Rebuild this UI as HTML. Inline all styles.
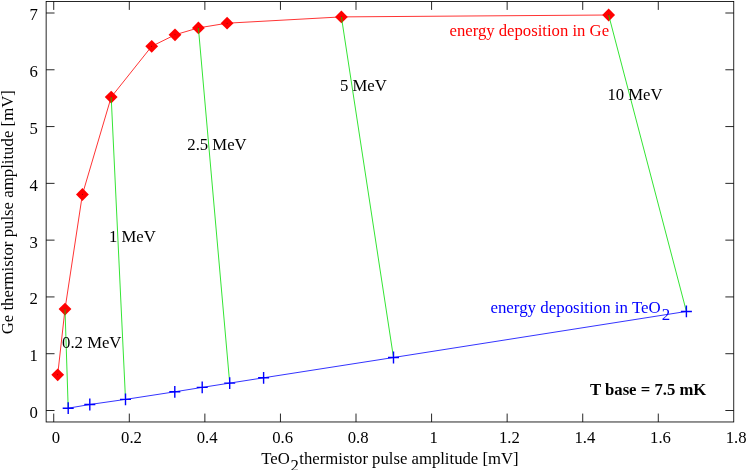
<!DOCTYPE html>
<html><head><meta charset="utf-8"><title>plot</title>
<style>html,body{margin:0;padding:0;background:#fff;overflow:hidden}svg{display:block;will-change:transform;opacity:0.999}text{font-family:"Liberation Serif",serif;font-size:16.7px;fill:#000}</style></head>
<body>
<svg width="747" height="470" viewBox="0 0 747 470">
<rect width="747" height="470" fill="#fff"/>
<g stroke="#000" stroke-width="0.85" fill="none" stroke-linecap="butt">
<rect x="46.14" y="1.50" width="687.61" height="420.47"/>
<path d="M53.73 421.97v-8.40 M53.73 1.50v8.40"/>
<path d="M129.30 421.97v-8.40 M129.30 1.50v8.40"/>
<path d="M204.87 421.97v-8.40 M204.87 1.50v8.40"/>
<path d="M280.44 421.97v-8.40 M280.44 1.50v8.40"/>
<path d="M356.01 421.97v-8.40 M356.01 1.50v8.40"/>
<path d="M431.58 421.97v-8.40 M431.58 1.50v8.40"/>
<path d="M507.15 421.97v-8.40 M507.15 1.50v8.40"/>
<path d="M582.72 421.97v-8.40 M582.72 1.50v8.40"/>
<path d="M658.29 421.97v-8.40 M658.29 1.50v8.40"/>
<path d="M46.14 410.50h8.40 M733.75 410.50h-8.40"/>
<path d="M46.14 353.71h8.40 M733.75 353.71h-8.40"/>
<path d="M46.14 296.93h8.40 M733.75 296.93h-8.40"/>
<path d="M46.14 240.14h8.40 M733.75 240.14h-8.40"/>
<path d="M46.14 183.36h8.40 M733.75 183.36h-8.40"/>
<path d="M46.14 126.57h8.40 M733.75 126.57h-8.40"/>
<path d="M46.14 69.78h8.40 M733.75 69.78h-8.40"/>
<path d="M46.14 13.00h8.40 M733.75 13.00h-8.40"/>
</g>
<g text-anchor="end">
<text x="37.8" y="417.90">0</text>
<text x="37.8" y="361.11">1</text>
<text x="37.8" y="304.33">2</text>
<text x="37.8" y="247.54">3</text>
<text x="37.8" y="190.76">4</text>
<text x="37.8" y="133.97">5</text>
<text x="37.8" y="77.18">6</text>
<text x="37.8" y="20.40">7</text>
</g>
<g text-anchor="middle">
<text x="55.93" y="443.2">0</text>
<text x="131.50" y="443.2">0.2</text>
<text x="207.07" y="443.2">0.4</text>
<text x="282.64" y="443.2">0.6</text>
<text x="358.21" y="443.2">0.8</text>
<text x="433.78" y="443.2">1</text>
<text x="509.35" y="443.2">1.2</text>
<text x="584.92" y="443.2">1.4</text>
<text x="660.49" y="443.2">1.6</text>
<text x="736.06" y="443.2">1.8</text>
</g>
<text transform="translate(12.8,212.2) rotate(-90)" text-anchor="middle" style="font-size:16.8px">Ge thermistor pulse amplitude [mV]</text>
<text x="261.3" y="463.8">TeO<tspan dy="6.8" dx="0.6">2</tspan><tspan dy="-6.8" dx="0.6">thermistor pulse amplitude [mV]</tspan></text>
<polyline points="57.70,374.80 65.00,309.10 82.40,194.50 111.20,97.10 151.70,46.30 175.00,34.80 198.40,27.90 227.10,23.20 341.40,16.90 608.65,15.00" fill="none" stroke="#f00" stroke-width="0.8"/>
<g fill="#f00">
<path d="M51.30 374.80l6.40 -6.40l6.40 6.40l-6.40 6.40z"/>
<path d="M58.60 309.10l6.40 -6.40l6.40 6.40l-6.40 6.40z"/>
<path d="M76.00 194.50l6.40 -6.40l6.40 6.40l-6.40 6.40z"/>
<path d="M104.80 97.10l6.40 -6.40l6.40 6.40l-6.40 6.40z"/>
<path d="M145.30 46.30l6.40 -6.40l6.40 6.40l-6.40 6.40z"/>
<path d="M168.60 34.80l6.40 -6.40l6.40 6.40l-6.40 6.40z"/>
<path d="M192.00 27.90l6.40 -6.40l6.40 6.40l-6.40 6.40z"/>
<path d="M220.70 23.20l6.40 -6.40l6.40 6.40l-6.40 6.40z"/>
<path d="M335.00 16.90l6.40 -6.40l6.40 6.40l-6.40 6.40z"/>
<path d="M602.25 15.00l6.40 -6.40l6.40 6.40l-6.40 6.40z"/>
</g>
<g fill="#500">
<circle cx="57.70" cy="374.80" r="0.45"/>
<circle cx="65.00" cy="309.10" r="0.45"/>
<circle cx="82.40" cy="194.50" r="0.45"/>
<circle cx="111.20" cy="97.10" r="0.45"/>
<circle cx="151.70" cy="46.30" r="0.45"/>
<circle cx="175.00" cy="34.80" r="0.45"/>
<circle cx="198.40" cy="27.90" r="0.45"/>
<circle cx="227.10" cy="23.20" r="0.45"/>
<circle cx="341.40" cy="16.90" r="0.45"/>
<circle cx="608.65" cy="15.00" r="0.45"/>
</g>
<g stroke="#0d0" stroke-width="0.8" fill="none">
<path d="M65.00 309.10L68.20 408.20"/>
<path d="M111.20 97.10L125.50 399.40"/>
<path d="M198.40 27.90L229.70 383.10"/>
<path d="M341.40 16.90L393.50 357.50"/>
<path d="M608.65 15.00L686.40 311.45"/>
</g>
<polyline points="68.20,408.20 89.80,404.50 125.50,399.40 174.80,391.80 202.20,387.40 229.70,383.10 263.60,377.80 393.50,357.50 686.40,311.45" fill="none" stroke="#00f" stroke-width="0.8"/>
<g stroke="#00f" stroke-width="1.4" fill="none">
<path d="M62.70 408.20h11.00M68.20 402.30v11.80"/>
<path d="M84.30 404.50h11.00M89.80 398.60v11.80"/>
<path d="M120.00 399.40h11.00M125.50 393.50v11.80"/>
<path d="M169.30 391.80h11.00M174.80 385.90v11.80"/>
<path d="M196.70 387.40h11.00M202.20 381.50v11.80"/>
<path d="M224.20 383.10h11.00M229.70 377.20v11.80"/>
<path d="M258.10 377.80h11.00M263.60 371.90v11.80"/>
<path d="M388.00 357.50h11.00M393.50 351.60v11.80"/>
<path d="M680.90 311.45h11.00M686.40 305.55v11.80"/>
</g>
<text x="62.1" y="347.5">0.2 MeV</text>
<text x="109" y="241.9">1 MeV</text>
<text x="187.3" y="150.4">2.5 MeV</text>
<text x="339.9" y="90.6">5 MeV</text>
<text x="607.4" y="99.5">10 MeV</text>
<text x="449.5" y="35.7" style="fill:#f00">energy deposition in Ge</text>
<text x="490.4" y="312.5" style="fill:#00f;font-size:16.9px">energy deposition in TeO<tspan dy="7.9" dx="1.0">2</tspan></text>
<text x="590" y="394.9" style="font-weight:bold">T base = 7.5 mK</text>
</svg>
</body></html>
